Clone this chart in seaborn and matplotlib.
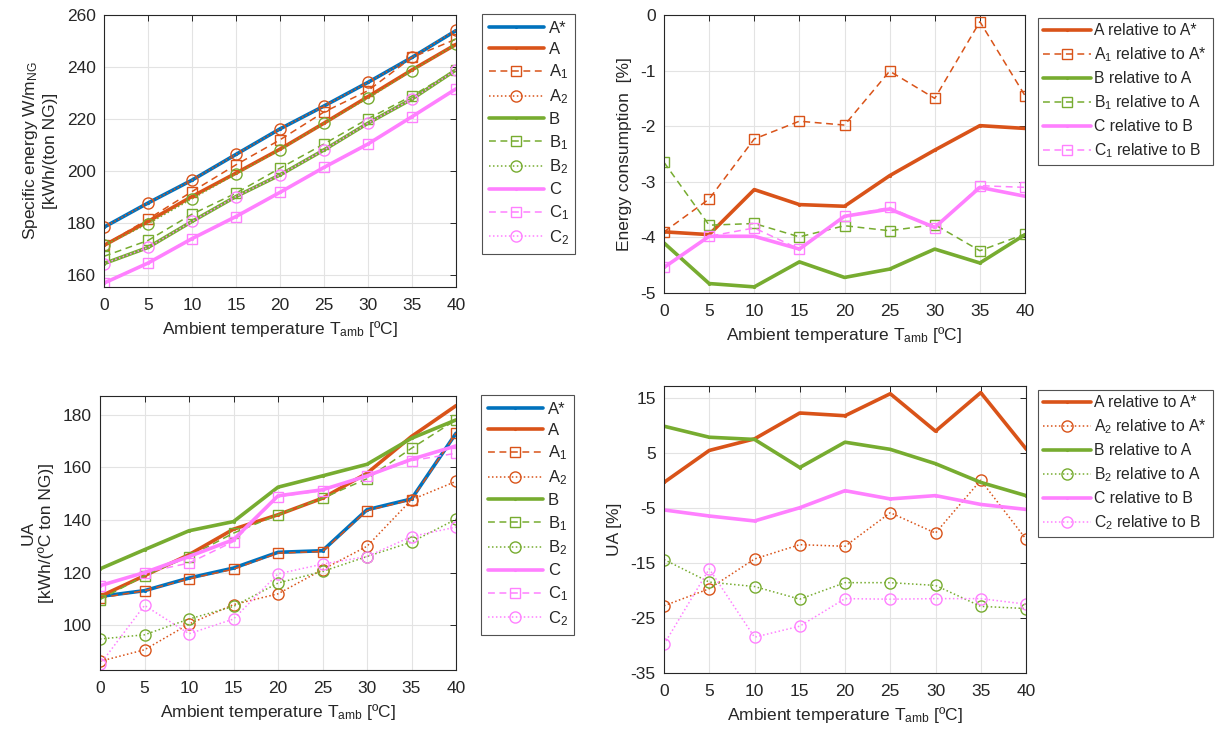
import numpy as np
import pandas as pd
import matplotlib
matplotlib.use("Agg")
import matplotlib.pyplot as plt
import seaborn as sns

# ---------------- data ----------------
T = [0, 5, 10, 15, 20, 25, 30, 35, 40]

# Specific energy [kWh/(ton NG)]
se_Astar = [178.4, 187.7, 196.5, 206.4, 216.2, 225.0, 234.1, 243.7, 254.0]
se_A     = [171.4, 180.6, 190.2, 199.2, 208.4, 218.4, 228.6, 238.9, 248.7]
se_A1    = [171.4, 181.5, 192.1, 202.4, 212.0, 222.7, 230.9, 243.7, 250.7]
se_A2    = [178.4, 187.7, 196.5, 206.4, 216.2, 225.0, 234.1, 243.7, 254.3]
se_B     = [164.4, 170.6, 180.6, 190.2, 198.5, 208.1, 218.4, 227.7, 238.9]
se_B1    = [167.2, 173.3, 183.4, 191.5, 201.1, 210.4, 220.1, 228.9, 238.9]
se_B2    = [171.4, 179.7, 189.3, 198.9, 208.1, 218.4, 228.0, 238.6, 248.7]
se_C     = [156.9, 164.6, 174.0, 182.5, 191.8, 201.4, 210.4, 220.9, 231.6]
se_C1    = [156.9, 164.6, 174.0, 182.5, 191.8, 201.4, 210.4, 220.9, 231.6]
se_C2    = [164.4, 170.6, 180.6, 190.2, 198.5, 208.1, 218.4, 227.7, 238.9]

# Energy consumption relative [%]
ec_A_rel  = [-3.90, -3.95, -3.14, -3.41, -3.44, -2.89, -2.43, -1.99, -2.04]
ec_A1_rel = [-3.90, -3.31, -2.23, -1.91, -1.98, -1.01, -1.50, -0.12, -1.45]
ec_B_rel  = [-4.10, -4.83, -4.89, -4.44, -4.72, -4.57, -4.21, -4.46, -3.95]
ec_B1_rel = [-2.65, -3.78, -3.75, -3.99, -3.79, -3.88, -3.77, -4.24, -3.94]
ec_C_rel  = [-4.54, -3.98, -3.98, -4.21, -3.62, -3.49, -3.82, -3.10, -3.26]
ec_C1_rel = [-4.54, -3.98, -3.83, -4.21, -3.62, -3.46, -3.83, -3.07, -3.10]

# UA [kWh/(ºC ton NG)]
ua_Astar = [110.9, 113.1, 117.9, 121.7, 127.7, 128.3, 143.9, 148.0, 173.0]
ua_A     = [110.9, 118.8, 126.8, 136.5, 142.0, 148.3, 157.8, 171.8, 183.5]
ua_A1    = [110.3, 113.1, 117.6, 121.3, 127.4, 128.0, 143.6, 147.7, 173.0]
ua_A2    = [86.2, 90.6, 100.4, 107.8, 111.9, 121.1, 130.0, 147.7, 154.7]
ua_B     = [121.4, 128.7, 135.9, 139.4, 152.5, 156.8, 161.2, 171.1, 178.1]
ua_B1    = [109.7, 118.8, 126.1, 135.0, 142.0, 148.3, 155.7, 167.3, 178.1]
ua_B2    = [94.7, 96.3, 102.3, 107.1, 116.0, 120.4, 126.1, 131.6, 140.3]
ua_C     = [115.0, 120.0, 126.1, 132.5, 149.2, 151.5, 156.8, 163.1, 168.2]
ua_C1    = [115.0, 120.0, 123.6, 131.8, 148.9, 151.2, 156.8, 162.6, 165.4]
ua_C2    = [85.0, 107.5, 96.7, 102.3, 119.5, 123.2, 126.1, 133.7, 137.3]

# UA relative [%]
uar_A_rel  = [-0.4, 5.4, 7.5, 12.2, 11.7, 15.7, 8.9, 15.9, 5.7]
uar_A2_rel = [-22.8, -19.7, -14.3, -11.7, -12.0, -5.9, -9.6, 0.0, -10.7]
uar_B_rel  = [9.8, 7.8, 7.4, 2.3, 6.9, 5.6, 3.0, -0.4, -2.8]
uar_B2_rel = [-14.4, -18.5, -19.3, -21.6, -18.6, -18.6, -19.1, -22.9, -23.3]
uar_C_rel  = [-5.4, -6.5, -7.4, -5.0, -1.9, -3.4, -2.8, -4.4, -5.3]
uar_C2_rel = [-29.8, -16.1, -28.5, -26.5, -21.5, -21.6, -21.5, -21.5, -22.5]

# ---------------- style ----------------
sns.set_theme(style="white")
plt.rcParams['font.family'] = ['Liberation Sans', 'DejaVu Sans']
plt.rcParams['mathtext.default'] = 'regular'

BLUE = '#0072BD'
ORANGE = '#D95319'
GREEN = '#77AC30'
PINK = '#FF80FF'

DASH = (0, (4.5, 3))
DOT = (0, (1, 1.6))

def style(kind, color):
    if kind == 'solid':
        return dict(color=color, linestyle='-', linewidth=2.6, marker='.',
                    markersize=3, markeredgecolor=color, markerfacecolor=color)
    if kind == 'dash':
        return dict(color=color, linestyle=DASH, linewidth=1.1, marker='s',
                    markersize=6.5, markeredgecolor=color, markerfacecolor='none',
                    markeredgewidth=1.0)
    return dict(color=color, linestyle=DOT, linewidth=1.1, marker='o',
                markersize=8, markeredgecolor=color, markerfacecolor='none',
                markeredgewidth=1.0)

fig = plt.figure(figsize=(12.15, 7.34), dpi=100)
W, H = 1215.0, 734.0

def make_ax(x0, x1, y0, y1):
    return fig.add_axes([x0 / W, 1 - y1 / H, (x1 - x0) / W, (y1 - y0) / H])

ax1 = make_ax(104, 456, 15, 287)
ax2 = make_ax(664, 1025, 15, 293)
ax3 = make_ax(100, 456, 396, 670)
ax4 = make_ax(664, 1026, 386, 673)

def draw(ax, series):
    for y, lab, kind, col in series:
        df = pd.DataFrame({'T': T, 'v': y})
        sns.lineplot(data=df, x='T', y='v', ax=ax, label=lab, legend=False,
                     **style(kind, col))

draw(ax1, [
    (se_Astar, 'A*', 'solid', BLUE),
    (se_A, 'A', 'solid', ORANGE),
    (se_A1, 'A$_1$', 'dash', ORANGE),
    (se_A2, 'A$_2$', 'dot', ORANGE),
    (se_B, 'B', 'solid', GREEN),
    (se_B1, 'B$_1$', 'dash', GREEN),
    (se_B2, 'B$_2$', 'dot', GREEN),
    (se_C, 'C', 'solid', PINK),
    (se_C1, 'C$_1$', 'dash', PINK),
    (se_C2, 'C$_2$', 'dot', PINK),
])
draw(ax2, [
    (ec_A_rel, 'A relative to A*', 'solid', ORANGE),
    (ec_A1_rel, 'A$_1$ relative to A*', 'dash', ORANGE),
    (ec_B_rel, 'B relative to A', 'solid', GREEN),
    (ec_B1_rel, 'B$_1$ relative to A', 'dash', GREEN),
    (ec_C_rel, 'C relative to B', 'solid', PINK),
    (ec_C1_rel, 'C$_1$ relative to B', 'dash', PINK),
])
draw(ax3, [
    (ua_Astar, 'A*', 'solid', BLUE),
    (ua_A, 'A', 'solid', ORANGE),
    (ua_A1, 'A$_1$', 'dash', ORANGE),
    (ua_A2, 'A$_2$', 'dot', ORANGE),
    (ua_B, 'B', 'solid', GREEN),
    (ua_B1, 'B$_1$', 'dash', GREEN),
    (ua_B2, 'B$_2$', 'dot', GREEN),
    (ua_C, 'C', 'solid', PINK),
    (ua_C1, 'C$_1$', 'dash', PINK),
    (ua_C2, 'C$_2$', 'dot', PINK),
])
draw(ax4, [
    (uar_A_rel, 'A relative to A*', 'solid', ORANGE),
    (uar_A2_rel, 'A$_2$ relative to A*', 'dot', ORANGE),
    (uar_B_rel, 'B relative to A', 'solid', GREEN),
    (uar_B2_rel, 'B$_2$ relative to A', 'dot', GREEN),
    (uar_C_rel, 'C relative to B', 'solid', PINK),
    (uar_C2_rel, 'C$_2$ relative to B', 'dot', PINK),
])

FS = 12.5
xlab = 'Ambient temperature T$_{amb}$ [ºC]'

def finish(ax, ylim, yticks, ylabel):
    ax.set_xlim(0, 40)
    ax.set_xticks(T)
    ax.set_ylim(*ylim)
    ax.set_yticks(yticks)
    ax.grid(True, color='#e3e3e3', linewidth=0.8)
    ax.set_axisbelow(True)
    for s in ax.spines.values():
        s.set_visible(True)
        s.set_color('#262626')
        s.set_linewidth(0.8)
    ax.tick_params(direction='in', top=True, right=True, length=4,
                   width=0.7, color='#262626', labelsize=FS, labelcolor='#262626')
    ax.tick_params(axis='x', pad=8)
    ax.tick_params(axis='y', pad=6)
    ax.set_xlabel(xlab, fontsize=FS, color='#262626', labelpad=4)
    ax.set_ylabel(ylabel, fontsize=FS, color='#262626', linespacing=1.25,
                  labelpad=6)

finish(ax1, (155.4, 260), [160, 180, 200, 220, 240, 260],
       'Specific energy W/m$_{NG}$\n[kWh/(ton NG)]')
finish(ax2, (-5, 0), [-5, -4, -3, -2, -1, 0], 'Energy consumption  [%]')
finish(ax3, (82.9, 187.2), [100, 120, 140, 160, 180], 'UA\n[kWh/(ºC ton NG)]')
finish(ax4, (-35, 17.1), [-35, -25, -15, -5, 5, 15], 'UA [%]')
ax2.set_yticklabels(['-5', '-4', '-3', '-2', '-1', '0'])
ax4.set_yticklabels(['-35', '-25', '-15', '-5', '5', '15'])

def leg(ax, x, y, hl, ls, fs, tp, bp):
    lg = ax.legend(loc='upper left', bbox_to_anchor=(x / W, 1 - y / H),
                   bbox_transform=fig.transFigure, borderaxespad=0,
                   fontsize=fs, frameon=True, fancybox=False,
                   edgecolor='#262626', handlelength=hl, handletextpad=tp,
                   labelspacing=ls, borderpad=bp)
    lg.get_frame().set_linewidth(0.8)
    for t in lg.get_texts():
        t.set_color('#262626')
    return lg

leg(ax1, 482, 14, 3.3, 0.36, 12, 0.3, 0.4)
leg(ax2, 1038, 18, 3.0, 0.45, 11.3, 0.25, 0.35)
leg(ax3, 481, 395, 3.3, 0.36, 12, 0.3, 0.4)
leg(ax4, 1038, 390, 3.0, 0.45, 11.3, 0.25, 0.35)

fig.savefig('out.png', dpi=100)
